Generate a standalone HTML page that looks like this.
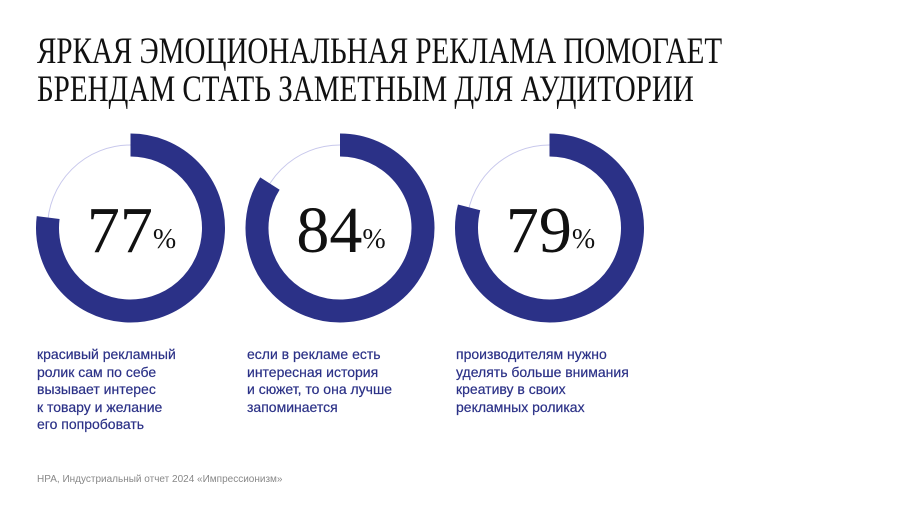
<!DOCTYPE html>
<html><head><meta charset="utf-8"><style>
html,body{margin:0;padding:0;background:#fff;width:900px;height:506px;overflow:hidden;position:relative}
.title{position:absolute;left:37px;font-family:"Liberation Serif",serif;font-size:37px;color:#111;white-space:nowrap;transform-origin:0 0;line-height:1}
.desc{position:absolute;top:346px;font-family:"Liberation Sans",sans-serif;font-size:14px;line-height:17.5px;color:#2b3187;font-weight:500;-webkit-text-stroke:0.2px #2b3187}
.foot{position:absolute;left:37px;top:474px;font-family:"Liberation Sans",sans-serif;font-size:10px;color:#888}
</style></head><body>
<div class="title" style="top:33px;transform:scaleX(0.785)">ЯРКАЯ ЭМОЦИОНАЛЬНАЯ РЕКЛАМА ПОМОГАЕТ</div>
<div class="title" style="top:71px;transform:scaleX(0.785)">БРЕНДАМ СТАТЬ ЗАМЕТНЫМ ДЛЯ АУДИТОРИИ</div>
<svg id="chart" width="900" height="506" style="position:absolute;left:0;top:0"></svg>
<div class="desc" style="left:37px">красивый рекламный<br>ролик сам по себе<br>вызывает интерес<br>к товару и желание<br>его попробовать</div>
<div class="desc" style="left:247px">если в рекламе есть<br>интересная история<br>и сюжет, то она лучше<br>запоминается</div>
<div class="desc" style="left:456px">производителям нужно<br>уделять больше внимания<br>креативу в своих<br>рекламных роликах</div>
<div class="foot">НРА, Индустриальный отчет 2024 «Импрессионизм»</div>
<script>
const categories = ["красивый ролик", "история и сюжет", "креатив"];
const values = [77, 84, 79];
const svg = document.getElementById('chart');
const NS = 'http://www.w3.org/2000/svg';
const cxs = [130.5, 340, 549.5], cy = 228, r = 83, w = 23;
function pt(a){return [Math.sin(a), -Math.cos(a)];}
values.forEach((v, i) => {
  const cx = cxs[i];
  const bg = document.createElementNS(NS, 'circle');
  bg.setAttribute('cx', cx); bg.setAttribute('cy', cy); bg.setAttribute('r', r);
  bg.setAttribute('fill', 'none'); bg.setAttribute('stroke', '#c8c8ec'); bg.setAttribute('stroke-width', '1');
  
  
  svg.appendChild(bg);
  const a = v / 100 * 2 * Math.PI;
  const [x1, y1] = pt(0), [x2, y2] = pt(a);
  const p = document.createElementNS(NS, 'path');
  p.setAttribute('d', `M${cx + r * x1},${cy + r * y1} A${r},${r} 0 ${a > Math.PI ? 1 : 0} 1 ${cx + r * x2},${cy + r * y2}`);
  p.setAttribute('fill', 'none'); p.setAttribute('stroke', '#2b3187'); p.setAttribute('stroke-width', w);
  
  
  svg.appendChild(p);
  const t = document.createElementNS(NS, 'text');
  t.setAttribute('x', cx + 1); t.setAttribute('y', cy + 24);
  t.setAttribute('text-anchor', 'middle');
  t.setAttribute('font-family', 'Liberation Serif, serif');
  t.setAttribute('fill', '#111');
  
  
  const s1 = document.createElementNS(NS, 'tspan'); s1.setAttribute('font-size', '66'); s1.textContent = v;
  const s2 = document.createElementNS(NS, 'tspan'); s2.setAttribute('font-size', '28'); s2.setAttribute('dy', '-4'); s2.textContent = '%';
  t.appendChild(s1); t.appendChild(s2);
  svg.appendChild(t);
});
</script>
</body></html>
